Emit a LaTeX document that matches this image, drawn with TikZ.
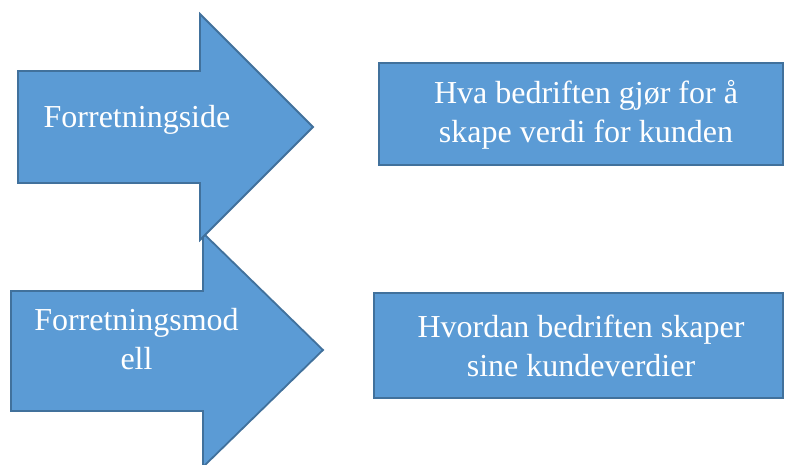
\documentclass[tikz,border=0pt]{standalone}
\usepackage{fontspec}
\setmainfont{Liberation Serif}
\definecolor{fillblue}{HTML}{5B9BD5}
\definecolor{edgeblue}{HTML}{41719C}
\begin{document}
\begin{tikzpicture}[x=1pt,y=-1pt,
  shapestyle/.style={fill=fillblue,draw=edgeblue,line width=1.8pt,line join=miter},
  label/.style={text=white,align=center,font=\fontsize{32}{39}\selectfont,inner sep=0pt},
  boxstyle/.style={shapestyle,rectangle,inner sep=0pt}]
\useasboundingbox (0,0) rectangle (785,464);
\clip (0,0) rectangle (785,464);
% arrow 2 (lower)
\path[shapestyle] (11,291) -- (203,291) -- (203,233) -- (323,350) -- (203,467) -- (203,411) -- (11,411) -- cycle;
% arrow 1 (upper)
\path[shapestyle] (18,71) -- (200,71) -- (200,14) -- (313,127) -- (200,240) -- (200,183) -- (18,183) -- cycle;
\node[label] (arrowA) at (137,119.5) {Forretningside};
\node[label] (arrowB) at (136.5,339) {Forretningsmod\\ell};
\node[boxstyle,minimum width=404pt,minimum height=102pt] (boxA) at (581,114) {};
\node[label] (textA) at (586,115) {Hva bedriften gjør for å\\skape verdi for kunden};
\node[boxstyle,minimum width=409pt,minimum height=105pt] (boxB) at (578.5,345.5) {};
\node[label] (textB) at (581,346) {Hvordan bedriften skaper\\sine kundeverdier};
\end{tikzpicture}
\end{document}
